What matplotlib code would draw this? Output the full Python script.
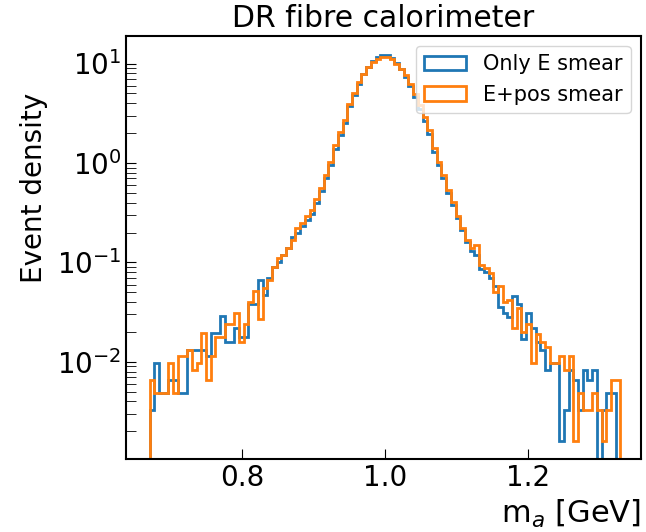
import numpy as np
import matplotlib
matplotlib.use("Agg")
import matplotlib.pyplot as plt

# bin edges of the m_a histograms [GeV]
edges = np.linspace(0.67, 1.33, 101)

# event density per bin
only_e = [0.0033, 0.0098, 0.0049, 0.0049, 0.0066, 0.0066, 0.0049, 0.0049, 0.0131, 0.0131,
          0.0131, 0.0131, 0.0115, 0.0197, 0.0197, 0.029, 0.016, 0.016, 0.022, 0.018,
          0.018, 0.038, 0.038, 0.067, 0.047, 0.070, 0.090, 0.100, 0.120, 0.140,
          0.180, 0.200, 0.230, 0.270, 0.310, 0.400, 0.520, 0.700, 0.950, 1.38,
          1.90, 2.55, 3.75, 4.8, 6.3, 7.8, 9.3, 10.6, 11.6, 12.2,
          12.1, 11.4, 10.2, 8.9, 7.4, 6.0, 4.6, 3.5, 2.65, 1.95,
          1.30, 0.95, 0.71, 0.50, 0.38, 0.28, 0.21, 0.16, 0.13, 0.12,
          0.085, 0.080, 0.070, 0.058, 0.036, 0.031, 0.028, 0.046, 0.038, 0.017,
          0.031, 0.022, 0.016, 0.0131, 0.0082, 0.0098, 0.0098, 0.0016, 0.0033, 0.0082,
          0.0066, 0.0033, 0.0082, 0.0066, 0.0082, 0.0, 0.0033, 0.0049, 0.0049, 0.0]

e_pos = [0.0066, 0.0049, 0.0049, 0.0049, 0.0098, 0.0049, 0.0115, 0.0115, 0.0131, 0.0082,
         0.0098, 0.0197, 0.0066, 0.0115, 0.018, 0.018, 0.024, 0.024, 0.031, 0.016,
         0.024, 0.040, 0.052, 0.027, 0.055, 0.067, 0.090, 0.110, 0.120, 0.140,
         0.170, 0.220, 0.250, 0.290, 0.340, 0.430, 0.560, 0.760, 1.03, 1.50,
         2.05, 2.70, 3.95, 5.0, 6.5, 7.9, 9.3, 10.4, 11.2, 11.7,
         11.6, 11.0, 10.0, 8.9, 7.6, 6.3, 4.9, 3.8, 2.87, 2.14,
         1.40, 1.03, 0.76, 0.54, 0.41, 0.29, 0.22, 0.17, 0.14, 0.15,
         0.094, 0.087, 0.078, 0.050, 0.058, 0.040, 0.042, 0.022, 0.035, 0.020,
         0.024, 0.0098, 0.019, 0.016, 0.014, 0.0098, 0.0098, 0.0115, 0.0082, 0.0115,
         0.0016, 0.0049, 0.0033, 0.0033, 0.0049, 0.0033, 0.0016, 0.0033, 0.0066, 0.0066]

centers = 0.5 * (edges[1:] + edges[:-1])

fig = plt.figure(figsize=(6.46, 5.32), dpi=100)
ax = fig.add_axes([0.195, 0.1367, 0.7973, 0.7962])

ax.hist(centers, bins=edges, weights=only_e, histtype='step', lw=2,
        color='tab:blue', label='Only E smear', log=True)
ax.hist(centers, bins=edges, weights=e_pos, histtype='step', lw=2,
        color='tab:orange', label='E+pos smear', log=True)

ax.set_xlim(0.637, 1.359)
ax.set_ylim(10 ** -2.979, 10 ** 1.28)
ax.set_xticks([0.8, 1.0, 1.2])

ax.tick_params(which='both', direction='in', labelsize=20)
ax.tick_params(which='major', length=7.5)
ax.tick_params(which='minor', length=7)
for s in ax.spines.values():
    s.set_linewidth(1.5)

ax.set_title('DR fibre calorimeter', fontsize=21.5)
ax.set_xlabel('m$_a$ [GeV]', fontsize=22, loc='right')
ax.set_ylabel('Event density', fontsize=20)
ax.yaxis.set_label_coords(-0.151, 0.64)
ax.legend(loc='upper right', fontsize=15)

fig.savefig('out.png', dpi=100)
